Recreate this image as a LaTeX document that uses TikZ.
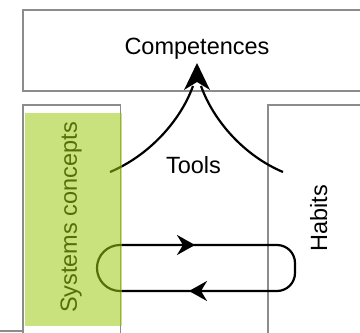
\documentclass[tikz,border=0pt]{standalone}
\usepackage{fontspec}
\setmainfont{Liberation Sans}
\usetikzlibrary{arrows.meta}
\definecolor{boxgray}{RGB}{140,140,140}
\definecolor{conceptgreen}{RGB}{158,202,20}
\begin{document}
\begin{tikzpicture}[x=1pt,y=-1pt,
  frame/.style={draw=boxgray,line width=1.1pt},
  flow/.style={draw=black,line width=2.2pt},
  label/.style={font=\fontsize{23.5}{28}\selectfont,inner sep=0pt},
  looptip/.style={-{Stealth[length=18pt,width=20pt,inset=6pt]}}]
\useasboundingbox (0,0) rectangle (360,333);

% frames: competences on top, the two side columns below
\draw[frame] (370,10) -- (23,10) -- (23,91) -- (370,91);
\draw[frame] (23,340) -- (23,105) -- (120.5,105) -- (120.5,340);
\draw[frame] (268,340) -- (268,105) -- (370,105);
\draw[frame] (0,331) -- (22,331);

% labels
\node[label,anchor=base] (comp) at (197,54) {Competences};
\node[label,anchor=base] (tools) at (193.5,173) {Tools};
\node[label,anchor=base,rotate=90] (habits) at (327,218.5) {Habits};
\node[label,anchor=base,rotate=90] (sys) at (77,217.5) {Systems concepts};

% two tools converging upwards into the competences arrow
\coordinate (tl) at (110,172);
\coordinate (tr) at (283,172);
\coordinate (ml) at (193,86);
\coordinate (mr) at (201,86);
\draw[flow] (tl) .. controls (148,156) and (180,122) .. (ml);
\draw[flow] (tr) .. controls (245,156) and (214,122) .. (mr);
\coordinate (tip) at (197,63);
\fill (tip) -- (210,90) -- (197,82) -- (184,90) -- cycle;

% feedback loop between systems concepts and habits
\coordinate (la) at (120,245);
\coordinate (lb) at (120,291);
\draw[flow] (lb) arc[start angle=270,end angle=90,radius=23pt] -- (la)
  [rounded corners=18pt] -- (295,245) -- (295,291) -- (lb);
\coordinate (a1) at (170,245);
\coordinate (a2) at (195,245);
\coordinate (b1) at (215,291);
\coordinate (b2) at (189,291);
\draw[flow,looptip] (a1) -- (a2);
\draw[flow,looptip] (b1) -- (b2);

% translucent green band over the systems concepts column
\fill[conceptgreen,opacity=0.55] (25,113) rectangle (122.5,326);
\end{tikzpicture}
\end{document}
